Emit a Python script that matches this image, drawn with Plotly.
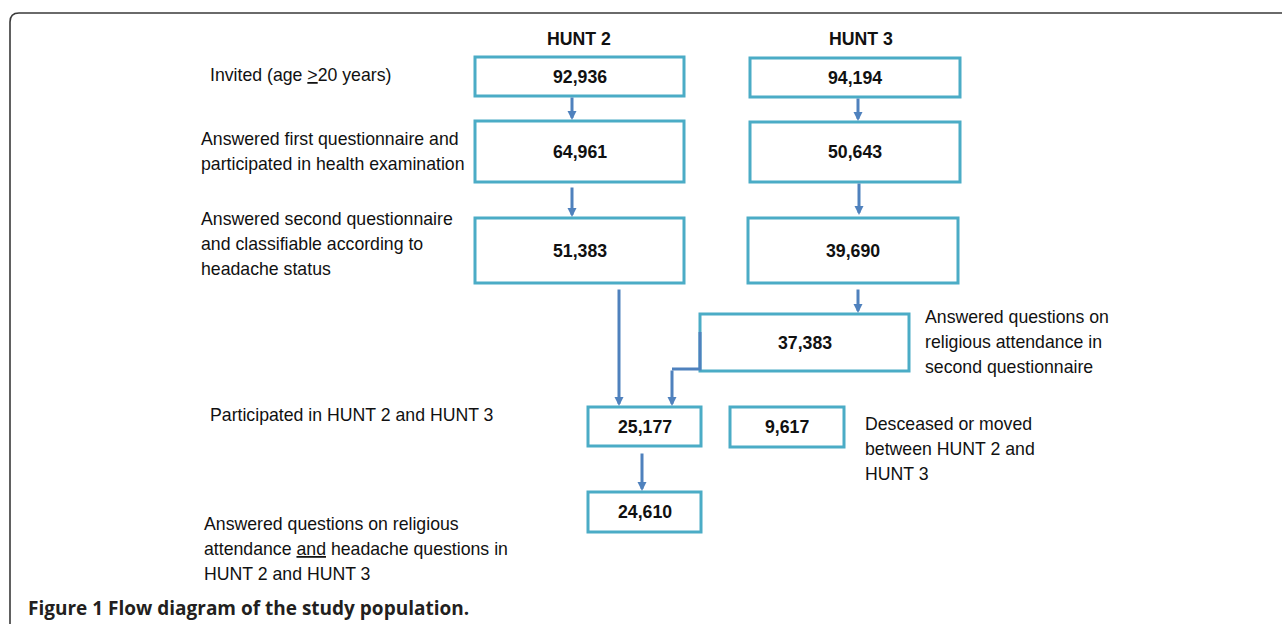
import plotly.graph_objects as go

# ---------------- data ----------------
headers = ["HUNT 2", "HUNT 3"]
hunt2_counts = ["92,936", "64,961", "51,383"]
hunt3_counts = ["94,194", "50,643", "39,690", "37,383"]
followup_counts = ["25,177", "9,617", "24,610"]
step_labels = [
    "Invited (age <u>&gt;</u>20 years)",
    "Answered first questionnaire and<br>participated in health examination",
    "Answered second questionnaire<br>and classifiable according to<br>headache status",
    "Participated in HUNT 2 and HUNT 3",
    "Answered questions on religious<br>attendance <u>and</u> headache questions in<br>HUNT 2 and HUNT 3",
]
side_labels = [
    "Answered questions on<br>religious attendance in<br>second questionnaire",
    "Desceased or moved<br>between HUNT 2 and<br>HUNT 3",
]
caption = "Figure 1 Flow diagram of the study population."

# ---------------- layout geometry (pixel space) ----------------
W, H = 1282, 624
# boxes: (x0, x1, y0, y1)
box_h2 = [(475, 684, 57, 96), (475, 684, 121, 182), (475, 684, 218, 283)]
box_h3 = [(750, 960, 58, 97), (750, 960, 122, 182), (748, 958, 218, 283), (700, 909, 314, 371)]
box_fu = [(588, 701, 407, 446), (730, 844, 407, 447), (588, 701, 492, 532)]
header_pos = [(579, 39), (861, 39)]
step_pos = [(208, 75), (199, 139), (199, 219), (208, 415), (202, 524)]   # first-line centres
side_pos = [(923, 317), (863, 424)]
LINE_GAP = 25
# arrows: (x, y_tail, y_tip)
arrows = [(572, 96, 120), (572, 186, 217), (619, 288, 406),
          (858, 97, 121), (859, 182, 215), (858, 288, 313),
          (672, 369, 406), (642, 452, 491)]
elbow = [(700, 332), (700, 369), (672, 369)]

BOX_COLOR = "#4BACC6"
ARROW_COLOR = "#4F81BD"
LABEL_FONT = "Liberation Sans, Arial, sans-serif"
FS = 17.7

fig = go.Figure()
fig.add_trace(go.Scatter(x=[0, W], y=[0, H], mode="markers",
                         marker=dict(opacity=0), hoverinfo="skip", showlegend=False))

shapes = []
annotations = []

# panel border (rounded top-left corner)
shapes.append(dict(type="path", xref="x", yref="y",
                   path=f"M 10 {H+5} L 10 22 Q 10 13 19 13 L {W+5} 13",
                   line=dict(color="#3a3a3a", width=1.6)))

def add_box(b, txt):
    x0, x1, y0, y1 = b
    shapes.append(dict(type="rect", xref="x", yref="y", x0=x0, x1=x1, y0=y0, y1=y1,
                       line=dict(color=BOX_COLOR, width=3), fillcolor="rgba(0,0,0,0)"))
    annotations.append(dict(x=(x0 + x1) / 2, y=(y0 + y1) / 2, xref="x", yref="y",
                            text=f"<b>{txt}</b>", showarrow=False,
                            font=dict(family=LABEL_FONT, size=FS, color="#111111"),
                            xanchor="center", yanchor="middle"))

for b, t in zip(box_h2, hunt2_counts):
    add_box(b, t)
for b, t in zip(box_h3, hunt3_counts):
    add_box(b, t)
for b, t in zip(box_fu, followup_counts):
    add_box(b, t)

# elbow connector
shapes.append(dict(type="path", xref="x", yref="y",
                   path="M " + " L ".join(f"{x} {y}" for x, y in elbow),
                   line=dict(color=ARROW_COLOR, width=3)))

for x, yt, yh in arrows:
    annotations.append(dict(x=x, y=yh, ax=x, ay=yt, xref="x", yref="y", axref="x", ayref="y",
                            text="", showarrow=True, arrowhead=2, arrowsize=0.6,
                            arrowwidth=3, arrowcolor=ARROW_COLOR))

for (x, y), t in zip(header_pos, headers):
    annotations.append(dict(x=x, y=y, xref="x", yref="y", text=f"<b>{t}</b>",
                            showarrow=False, xanchor="center", yanchor="middle",
                            font=dict(family=LABEL_FONT, size=FS, color="#111111")))

def add_label(x, y, t):
    for i, line in enumerate(t.split("<br>")):
        annotations.append(dict(x=x, y=y + i * LINE_GAP, xref="x", yref="y", text=line,
                                showarrow=False, xanchor="left", yanchor="middle", align="left",
                                font=dict(family=LABEL_FONT, size=FS, color="#111111")))

for (x, y), t in zip(step_pos, step_labels):
    add_label(x, y, t)
for (x, y), t in zip(side_pos, side_labels):
    add_label(x, y, t)

annotations.append(dict(x=26, y=608, xref="x", yref="y", text=f"<b>{caption}</b>",
                        showarrow=False, xanchor="left", yanchor="middle",
                        font=dict(family="Open Sans", size=19, color="#231F20")))

fig.update_layout(
    width=W, height=H, margin=dict(l=0, r=0, t=0, b=0),
    paper_bgcolor="white", plot_bgcolor="white",
    xaxis=dict(range=[0, W], visible=False, fixedrange=True),
    yaxis=dict(range=[H, 0], visible=False, fixedrange=True),
    shapes=shapes, annotations=annotations, showlegend=False,
)
fig.write_html("out.html", config={"displayModeBar": False},
               post_script="document.body.style.margin='0';document.body.style.overflow='hidden';")
